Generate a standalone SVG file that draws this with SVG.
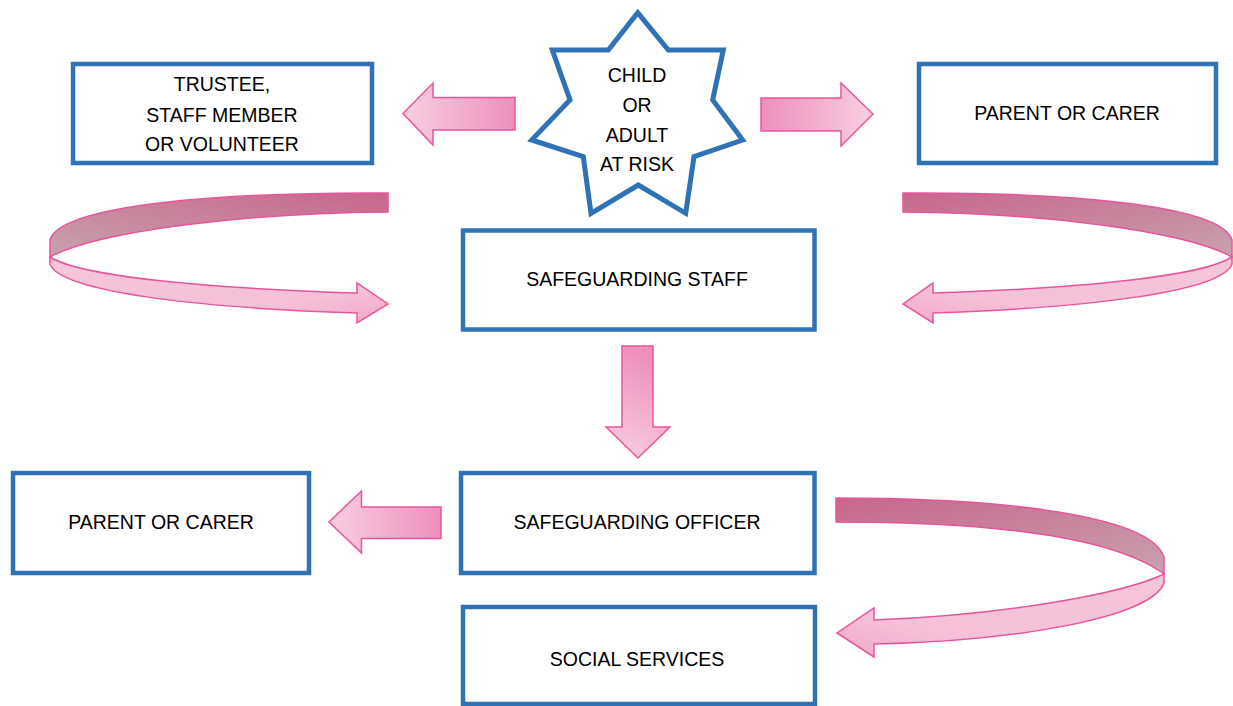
<svg xmlns="http://www.w3.org/2000/svg" width="1233" height="706" viewBox="0 0 1233 706">
<defs>
<style>
.box{fill:#fff;stroke:#2F72B5;stroke-width:4.5}
.star{fill:#fff;stroke:#2F72B5;stroke-width:5;stroke-linejoin:miter}
.lbl{font-family:"Liberation Sans",Arial,sans-serif;font-size:19.5px;fill:#000;text-anchor:middle}
.arr{stroke:#E8559E;stroke-width:1.5;stroke-linejoin:miter}
</style>
<linearGradient id="gL" x1="0" y1="0" x2="1" y2="0"><stop offset="0" stop-color="#F8CFE1"/><stop offset="1" stop-color="#EE8FBD"/></linearGradient>
<linearGradient id="gR" x1="1" y1="0" x2="0" y2="0"><stop offset="0" stop-color="#F8CFE1"/><stop offset="1" stop-color="#EE8FBD"/></linearGradient>
<linearGradient id="gD" x1="0" y1="1" x2="0.3" y2="0"><stop offset="0" stop-color="#F8D2E3"/><stop offset="1" stop-color="#EE8FBD"/></linearGradient>
<linearGradient id="darkL" x1="1" y1="0" x2="0" y2="1"><stop offset="0" stop-color="#C8668C"/><stop offset="1" stop-color="#C8A2AE"/></linearGradient>
<linearGradient id="darkR" x1="0" y1="0" x2="1" y2="1"><stop offset="0" stop-color="#C8668C"/><stop offset="1" stop-color="#C8A2AE"/></linearGradient>
<linearGradient id="lightL" x1="0" y1="0" x2="1" y2="1"><stop offset="0" stop-color="#F6C6DA"/><stop offset="0.7" stop-color="#F5C0D8"/><stop offset="1" stop-color="#F2A8CA"/></linearGradient>
<linearGradient id="lightR" x1="1" y1="0" x2="0" y2="1"><stop offset="0" stop-color="#F6C6DA"/><stop offset="0.7" stop-color="#F5C0D8"/><stop offset="1" stop-color="#F2A8CA"/></linearGradient>
</defs>

<g id="connectors">
  <path class="arr" fill="url(#gL)" d="M403,113.5 L433,83 L433,97.5 L515,97.5 L515,130 L433,130 L433,145 Z"/>
  <path class="arr" fill="url(#gR)" d="M873,114 L841,83 L841,98 L761,98 L761,131 L841,131 L841,146 Z"/>
  <path class="arr" fill="url(#gD)" d="M638,458 L606,427 L622,427 L622,346 L653,346 L653,427 L670,427 Z"/>
  <path class="arr" fill="url(#gL)" d="M329,522 L361.5,491 L361.5,507 L441,507 L441,538.5 L361.5,538.5 L361.5,553 Z"/>

  <path class="arr" fill="url(#darkL)" d="M388,193 C220,192 60,205 50,240 L50,257 C100,230 250,213 388,212 Z"/>
  <path class="arr" fill="url(#lightL)" d="M50,257 C80,276 200,288 357,293 L357,283 L388,304 L357,323 L357,313 C200,308 60,292 50,264 Z"/>

  <path class="arr" fill="url(#darkR)" d="M903,193 C1066,192 1222,205 1232,240 L1232,257 C1183,230 1037,213 903,212 Z"/>
  <path class="arr" fill="url(#lightR)" d="M1232,257 C1203,276 1086,288 933,293 L933,283 L903,304 L933,323 L933,313 C1086,308 1222,292 1232,264 Z"/>

  <path class="arr" fill="url(#darkR)" d="M836,498 C1000,498 1150,515 1164,557 L1164,574 C1110,535 980,522 836,522 Z"/>
  <path class="arr" fill="url(#lightR)" d="M1164,574 C1120,595 1000,615 874,620 L874,608 L837,633 L874,657 L874,644 C1000,642 1150,620 1164,583 Z"/>
</g>

<g id="node-child">
  <polygon class="star" points="637.7,12.7 668.3,50 723.3,50 712.7,100 742.7,140 694,156.7 685.7,213.3 638.3,185 591,213.3 583.3,156.7 531.7,140 570,100 552.3,50 608.3,50"/>
  <text class="lbl" x="637" y="82">CHILD</text>
  <text class="lbl" x="637" y="111.5">OR</text>
  <text class="lbl" x="637" y="141.5">ADULT</text>
  <text class="lbl" x="637" y="171">AT RISK</text>
</g>

<g id="node-trustee">
  <rect class="box" x="73" y="64" width="299" height="99"/>
  <text class="lbl" x="222" y="91">TRUSTEE,</text>
  <text class="lbl" x="222" y="122">STAFF MEMBER</text>
  <text class="lbl" x="222" y="151">OR VOLUNTEER</text>
</g>

<g id="node-parent-top">
  <rect class="box" x="919" y="64" width="297" height="99"/>
  <text class="lbl" x="1067" y="120">PARENT OR CARER</text>
</g>

<g id="node-safeguarding-staff">
  <rect class="box" x="463" y="230.5" width="351.5" height="99"/>
  <text class="lbl" x="637" y="285.5">SAFEGUARDING STAFF</text>
</g>

<g id="node-safeguarding-officer">
  <rect class="box" x="461" y="473" width="353.5" height="100"/>
  <text class="lbl" x="637" y="529">SAFEGUARDING OFFICER</text>
</g>

<g id="node-parent-bottom">
  <rect class="box" x="13" y="473" width="296" height="100"/>
  <text class="lbl" x="161" y="529">PARENT OR CARER</text>
</g>

<g id="node-social-services">
  <rect class="box" x="463" y="607" width="352" height="97"/>
  <text class="lbl" x="637" y="666">SOCIAL SERVICES</text>
</g>
</svg>
